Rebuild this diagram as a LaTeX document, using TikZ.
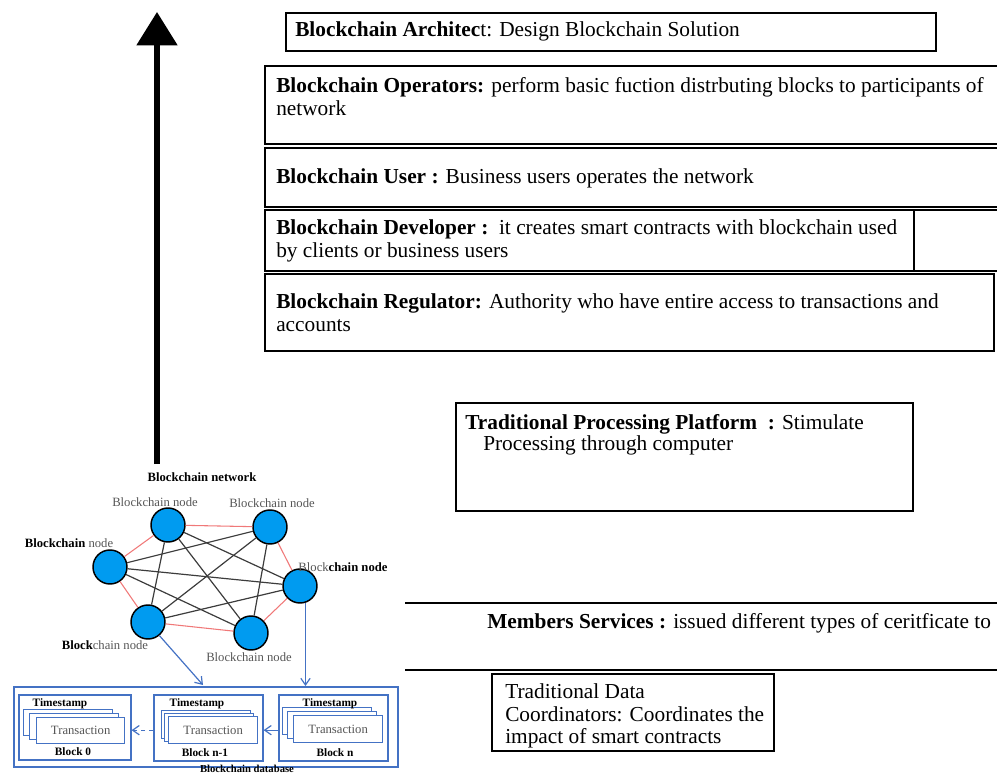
\documentclass[tikz,border=0pt]{standalone}
\usepackage{fontspec}
\setmainfont{Liberation Serif}
\usetikzlibrary{arrows.meta}
\definecolor{dbblue}{RGB}{68,114,196}
\definecolor{nodeblue}{RGB}{0,155,240}
\definecolor{edgered}{RGB}{240,120,120}
\definecolor{edgegray}{RGB}{60,60,60}
\definecolor{labelgray}{RGB}{85,85,85}
\newcommand\myframe[6][]{\node[frame,#1, minimum width={(#5-#3)*0.75pt}, minimum height={(#6-#4)*0.75pt}] (#2) at (#3,#4) {};}
\begin{document}
\begin{tikzpicture}[x=0.75pt,y=-0.75pt,
  txt/.style={font=\fontsize{16}{18}\selectfont, inner sep=0pt, anchor=base west},
  frame/.style={draw=black, line width=1.5pt, inner sep=0pt, anchor=north west},
  dbframe/.style={draw=dbblue, line width=1.2pt, inner sep=0pt, anchor=north west},
  txframe/.style={draw=dbblue, fill=white, line width=1pt, inner sep=0pt, anchor=north west},
  lbl/.style={font=\fontsize{9.5}{10}\selectfont, text=labelgray, inner sep=0pt},
  dbtxt/.style={font=\fontsize{8.5}{10}\selectfont\bfseries, inner sep=0pt},
  bnode/.style={circle, draw=black, line width=1.1pt, fill=nodeblue, minimum size=25.5pt, inner sep=0pt},
  rededge/.style={draw=edgered, line width=0.8pt},
  grayedge/.style={draw=edgegray, line width=0.9pt},
  bluearrow/.style={draw=dbblue, line width=0.9pt, -{Straight Barb[length=5pt,width=7pt]}},
  bigarrow/.style={draw=black, line width=3.8pt, -{Triangle[width=30pt,length=25pt]}}
]
\useasboundingbox (0,0) rectangle (997,774);

% ---------- big arrow ----------
\coordinate (arrowbot) at (157,464);
\coordinate (arrowtop) at (157,12);
\draw[bigarrow] (arrowbot) -- (arrowtop);

% ---------- role boxes ----------
\myframe{arch}{285}{12}{935}{50}
\myframe{ops}{264}{65}{1003}{143}
\myframe{user}{264}{147}{1003}{206}
\myframe{dev}{264}{209}{913}{270}
\myframe{devr}{913}{209}{1003}{270}
\myframe{reg}{264}{273}{993}{350}

\node[txt] (archT) at (295,37) {\textbf{Blockchain Architec}t: Design Blockchain Solution};
\node[txt] (opsT1) at (276,93) {\textbf{Blockchain Operators:} perform basic fuction distrbuting blocks to participants of};
\node[txt] (opsT2) at (276,116) {network};
\node[txt] (userT) at (276,183) {\textbf{Blockchain User :} Business users operates the network};
\node[txt] (devT1) at (276,234) {\textbf{Blockchain Developer :}\ \ it creates smart contracts with blockchain used};
\node[txt] (devT2) at (276,257) {by clients or business users};
\node[txt] (regT1) at (276,308) {\textbf{Blockchain Regulator:} Authority who have entire access to transactions and};
\node[txt] (regT2) at (276,331) {accounts};

% ---------- traditional processing platform ----------
\myframe{tpp}{455}{402}{912}{510}
\node[txt] (tppT1) at (465,429) {\textbf{Traditional Processing Platform\ \ :} Stimulate};
\node[txt] (tppT2) at (483,450) {Processing through computer};

% ---------- members services ----------
\coordinate (ms1a) at (405,603);
\coordinate (ms1b) at (1000,603);
\coordinate (ms2a) at (405,670);
\coordinate (ms2b) at (1000,670);
\draw[line width=1.5pt] (ms1a) -- (ms1b);
\draw[line width=1.5pt] (ms2a) -- (ms2b);
\node[txt] (msT) at (487,628) {\textbf{Members Services :} issued different types of ceritficate to};

% ---------- traditional data coordinators ----------
\myframe{tdc}{491}{673}{773}{750}
\node[txt] (tdcT1) at (505,698) {Traditional Data};
\node[txt] (tdcT2) at (505,721) {Coordinators: Coordinates the};
\node[txt] (tdcT3) at (505,743) {impact of smart contracts};

% ---------- blockchain network ----------
\node[font=\fontsize{9.5}{10}\selectfont\bfseries, inner sep=0pt] (netT) at (202,477) {Blockchain network};

\node[bnode] (N1) at (168,525) {};
\node[bnode] (N2) at (270,527) {};
\node[bnode] (N3) at (110,567) {};
\node[bnode] (N4) at (300,586) {};
\node[bnode] (N5) at (148,622) {};
\node[bnode] (N6) at (251,633) {};

\foreach \a/\b in {N1/N2,N2/N4,N4/N6,N6/N5,N5/N3,N3/N1}
  \draw[rededge] (\a) -- (\b);
\foreach \a/\b in {N1/N4,N1/N5,N1/N6,N2/N3,N2/N5,N2/N6,N3/N4,N3/N6,N4/N5}
  \draw[grayedge] (\a) -- (\b);

\node[lbl] (L1) at (155,502) {Blockchain node};
\node[lbl] (L2) at (272,503) {Blockchain node};
\node[lbl] (L3) at (69,543) {\textcolor{black}{\textbf{Blockchain}} node};
\node[lbl] (L4) at (343,567) {Block\textcolor{black}{\textbf{chain node}}};
\node[lbl] (L5) at (105,645) {\textcolor{black}{\textbf{Block}}chain node};
\node[lbl] (L6) at (249,657) {Blockchain node};

% ---------- blockchain database ----------
\myframe[dbframe, line width=1.6pt]{db}{13}{686}{397}{766}
\myframe[dbframe]{b0}{18}{694}{130}{759}
\myframe[dbframe]{b1}{153}{694}{262}{760}
\myframe[dbframe]{b2}{278}{694}{387}{760}

\myframe[txframe]{t0a}{23}{709}{112}{735}
\myframe[txframe]{t0b}{29}{713}{118}{739}
\myframe[txframe]{t0c}{36}{717}{124}{743}
\myframe[txframe]{t1a}{161}{710}{250}{738}
\myframe[txframe]{t1b}{164}{713}{253}{741}
\myframe[txframe]{t1c}{168}{716}{257}{743}
\myframe[txframe]{t2a}{282}{707}{371}{734}
\myframe[txframe]{t2b}{287}{711}{376}{738}
\myframe[txframe]{t2c}{293}{715}{382}{742}

\node[lbl, font=\fontsize{9.5}{10}\selectfont] at (t0c.center) (tx0) {Transaction};
\node[lbl, font=\fontsize{9.5}{10}\selectfont] at (t1c.center) (tx1) {Transaction};
\node[lbl, font=\fontsize{9.5}{10}\selectfont] at (t2c.center) (tx2) {Transaction};

\node[dbtxt] (ts0) at (60,703.5) {Timestamp};
\node[dbtxt] (ts1) at (197,703.5) {Timestamp};
\node[dbtxt] (ts2) at (330,703.5) {Timestamp};
\node[dbtxt] (bl0) at (73,752) {Block 0};
\node[dbtxt] (bl1) at (205,752.5) {Block n-1};
\node[dbtxt] (bl2) at (335,752.5) {Block n};
\node[dbtxt, font=\fontsize{8}{9}\selectfont\bfseries, anchor=base] (dbT) at (247,772.5) {Blockchain database};

\draw[bluearrow, dashed] (b1.west |- t1c.center) -- (b0.east |- t1c.center);
\draw[bluearrow] (b2.west |- t1c.center) -- (b1.east |- t1c.center);

\coordinate (a1end) at (203,685);
\draw[bluearrow] (N5.-50) -- (a1end);
\draw[bluearrow] (N4.-72) -- (N4.-72 |- db.north);
\end{tikzpicture}
\end{document}
